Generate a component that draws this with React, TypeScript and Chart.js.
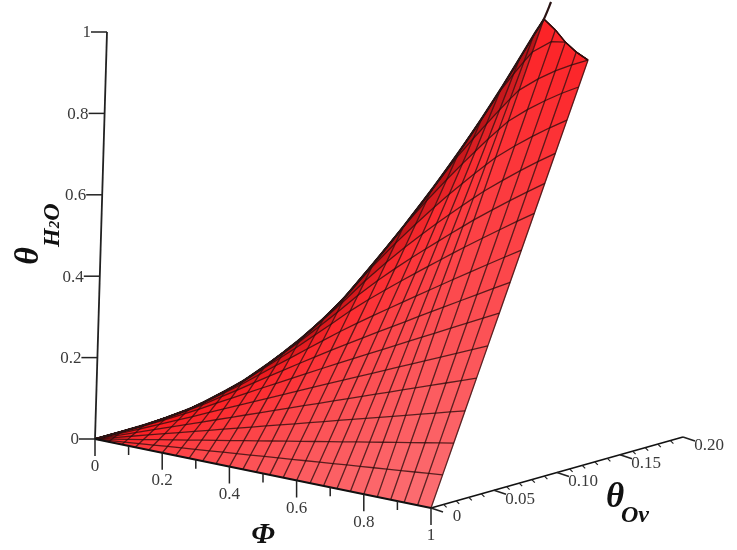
import React, { useEffect, useRef } from "react";
import { Chart, registerables } from "chart.js";

Chart.register(...registerables);

// Constant-phi mesh lines: where each one ends on the ridge or the clipped top edge
const phiStations = [0, 0.04, 0.08, 0.12, 0.16, 0.2, 0.24, 0.28, 0.32, 0.36, 0.4, 0.44, 0.48, 0.52, 0.56, 0.6, 0.64, 0.68, 0.72, 0.76, 0.8, 0.84, 0.88, 0.92, 0.96, 1];
const ovTop = [0, 0.0106, 0.0173, 0.0244, 0.0312, 0.0331, 0.0392, 0.0417, 0.0478, 0.0517, 0.0539, 0.0614, 0.0668, 0.0783, 0.0906, 0.1011, 0.1119, 0.1182, 0.1218, 0.1254, 0.1252, 0.1221, 0.1207, 0.1182, 0.1163, 0.1151];
const hTop = [0, 0.016, 0.0328, 0.052, 0.0735, 0.0972, 0.1263, 0.1543, 0.1919, 0.2296, 0.2666, 0.3184, 0.372, 0.4523, 0.5391, 0.6253, 0.7187, 0.8007, 0.8759, 0.9555, 1.019, 1.068, 1.049, 1.028, 1.012, 1.0];
// Cross lines: level on the phi = 1 edge (above 1 they run out through the clipped top)
const rowLevels = [0, 0.074, 0.145, 0.217, 0.29, 0.362, 0.435, 0.504, 0.576, 0.658, 0.725, 0.792, 0.866, 0.94, 1, 1.07, 1.14, 1.21, 1.28];
const ridgeTip = { phi: 0.85, ov: 0.1247, h: 1.109 };
const RIDGE_STATIONS = 22;

// Axis ticks
const hTicks = [0, 0.2, 0.4, 0.6, 0.8, 1];
const hTickLabels = ["0", "0.2", "0.4", "0.6", "0.8", "1"];
const phiMajor = [0, 0.2, 0.4, 0.6, 0.8, 1];
const phiLabels = ["0", "0.2", "0.4", "0.6", "0.8", "1"];
const phiMinor = [0.1, 0.3, 0.5, 0.7, 0.9];
const ovMajor = [0, 0.05, 0.1, 0.15, 0.2];
const ovLabels = ["0", "0.05", "0.10", "0.15", "0.20"];
const ovMinor = [0.01, 0.02, 0.03, 0.04, 0.06, 0.07, 0.08, 0.09, 0.11, 0.12, 0.13, 0.14, 0.16, 0.17, 0.18, 0.19];

// Oblique view of the three data axes, in plot units
const ORIGIN = { x: 95, y: 439 };
const PHI_VEC = { x: 336, y: 69 };
const OV_VEC = { x: 1260, y: -355 };
const H_VEC = { x: 12, y: -407 };

const project = (phi: number, ov: number, h: number) => ({
  x: ORIGIN.x + phi * PHI_VEC.x + ov * OV_VEC.x + h * H_VEC.x,
  y: ORIGIN.y + phi * PHI_VEC.y + ov * OV_VEC.y + h * H_VEC.y,
});

const cross = (a: { x: number; y: number }, b: { x: number; y: number }) => a.x * b.y - a.y * b.x;

// Cross lines run from the origin to their point on the phi = 1 edge; they merge into the ridge.
const rowFraction = (i: number, r: number) => {
  const last = phiStations.length - 1;
  const level = rowLevels[r];
  if (level === 0) return 0;
  const end = project(1, ovTop[last] * level, hTop[last] * level);
  const ray = { x: end.x - ORIGIN.x, y: end.y - ORIGIN.y };
  const span = {
    x: ovTop[i] * OV_VEC.x + hTop[i] * H_VEC.x,
    y: ovTop[i] * OV_VEC.y + hTop[i] * H_VEC.y,
  };
  const den = cross(span, ray);
  if (den <= 0) return 1;
  const raw = (-phiStations[i] * cross(PHI_VEC, ray)) / den;
  const n = 6;
  const soft = (raw / Math.pow(1 + Math.pow(raw, n), 1 / n)) * Math.pow(1 + Math.pow(level, n), 1 / n);
  return Math.min(1, soft);
};

const meshPoint = (i: number, r: number) => {
  const f = rowFraction(i, r);
  return project(phiStations[i], ovTop[i] * f, hTop[i] * f);
};

const cellColor = (i: number, r: number) => {
  const u = (phiStations[i] + phiStations[i + 1]) / 2;
  const f = (rowFraction(i, r) + rowFraction(i + 1, r) + rowFraction(i, r + 1) + rowFraction(i + 1, r + 1)) / 4;
  const base = 20 + 92 * Math.pow(u, 0.45);
  const ridge = u < 0.85 ? Math.pow(Math.max(0, (f - 0.76) / 0.24), 1.5) : 0;
  const gb = base * (1 - 0.68 * f) * (1 - 0.55 * ridge);
  const red = 252 - 85 * ridge * Math.min(1, 0.35 + u * 1.6);
  return `rgb(${Math.round(red)},${Math.round(gb)},${Math.round(gb + 4)})`;
};

const line = (data: { x: number; y: number }[], color: string, width: number, tension = 0) => ({
  data,
  showLine: true,
  fill: false,
  borderColor: color,
  borderWidth: width,
  pointRadius: 0,
  tension,
});

const buildDatasets = () => {
  const sets: any[] = [];
  for (let i = 0; i < phiStations.length - 1; i++) {
    for (let r = 0; r < rowLevels.length - 1; r++) {
      const c = cellColor(i, r);
      sets.push({
        data: [meshPoint(i, r), meshPoint(i + 1, r), meshPoint(i + 1, r + 1), meshPoint(i, r + 1)],
        showLine: true,
        fill: "shape",
        backgroundColor: c,
        borderColor: c,
        borderWidth: 0.6,
        pointRadius: 0,
      });
    }
  }
  const meshColor = "rgba(50,12,12,0.8)";
  rowLevels.forEach((_, r) => {
    if (r === 0) return;
    sets.push(line(phiStations.map((_, i) => meshPoint(i, r)), meshColor, 1.3));
  });
  phiStations.forEach((_, i) => {
    if (i === 0) return;
    sets.push(line(rowLevels.map((_, r) => meshPoint(i, r)), meshColor, 1.3));
  });
  // ridge with its tip
  const ridge = phiStations.slice(0, RIDGE_STATIONS).map((_, i) => project(phiStations[i], ovTop[i], hTop[i]));
  ridge.push(project(ridgeTip.phi, ridgeTip.ov, ridgeTip.h));
  sets.push(line(ridge, "#2a1414", 2.2, 0.25));

  const axisColor = "#222222";
  // theta H2O axis
  sets.push(line([project(0, 0, 0), project(0, 0, 1)], axisColor, 1.8));
  hTicks.forEach((t) => {
    const p = project(0, 0, t);
    sets.push(line([p, { x: p.x - 16, y: p.y }], axisColor, 1.5));
  });
  // Phi axis
  sets.push(line([project(0, 0, 0), project(1, 0, 0)], "#111111", 2));
  phiMajor.forEach((t) => {
    const p = project(t, 0, 0);
    sets.push(line([p, { x: p.x, y: p.y + 17 }], axisColor, 1.5));
  });
  phiMinor.forEach((t) => {
    const p = project(t, 0, 0);
    sets.push(line([p, { x: p.x, y: p.y + 9 }], axisColor, 1.5));
  });
  // theta Ov axis
  sets.push(line([project(1, 0, 0), project(1, 0.2, 0)], "#111111", 1.8));
  ovMajor.forEach((t) => {
    const p = project(1, t, 0);
    sets.push(line([p, { x: p.x + 12, y: p.y + 4 }], axisColor, 1.4));
  });
  ovMinor.forEach((t) => {
    const p = project(1, t, 0);
    sets.push(line([p, { x: p.x + 3, y: p.y + 3 }], axisColor, 1.2));
  });
  // Chart.js paints the first dataset last
  return sets.reverse();
};

const SERIF = '"Liberation Serif", "Times New Roman", serif';
const TEXT = "#3a3a3a";

const labelsPlugin = {
  id: "axisText",
  afterDraw(chart: any) {
    const { ctx, scales } = chart;
    const px = (p: { x: number; y: number }) => ({ x: scales.x.getPixelForValue(p.x), y: scales.y.getPixelForValue(p.y) });
    ctx.save();
    ctx.textAlign = "center";
    ctx.textBaseline = "middle";
    ctx.fillStyle = TEXT;
    ctx.font = `17px ${SERIF}`;
    hTicks.forEach((t, k) => {
      const p = px(project(0, 0, t));
      ctx.textAlign = "right";
      ctx.fillText(hTickLabels[k], p.x - 16, p.y + 1);
    });
    ctx.textAlign = "center";
    phiMajor.forEach((t, k) => {
      const p = px(project(t, 0, 0));
      ctx.fillText(phiLabels[k], p.x, p.y + 28);
    });
    ovMajor.forEach((t, k) => {
      const p = px(project(1, t, 0));
      ctx.fillText(ovLabels[k], p.x + 26, p.y + 9);
    });

    ctx.fillStyle = "#111111";
    ctx.font = `italic bold 30px ${SERIF}`;
    const phiPos = px({ x: 263, y: 535 });
    ctx.fillText("\u03A6", phiPos.x, phiPos.y);

    const ovPos = px({ x: 615, y: 498 });
    ctx.font = `italic bold 35px ${SERIF}`;
    ctx.fillText("\u03B8", ovPos.x, ovPos.y);
    ctx.font = `italic bold 24px ${SERIF}`;
    ctx.textAlign = "left";
    ctx.fillText("Ov", ovPos.x + 6, ovPos.y + 18);

    ctx.save();
    const tPos = px({ x: 29, y: 256 });
    ctx.translate(tPos.x, tPos.y);
    ctx.rotate(-Math.PI / 2);
    ctx.textAlign = "center";
    ctx.font = `italic bold 34px ${SERIF}`;
    ctx.fillText("\u03B8", 0, 0);
    ctx.textAlign = "left";
    ctx.font = `italic bold 24px ${SERIF}`;
    ctx.fillText("H", 9, 24);
    const hW = ctx.measureText("H").width;
    ctx.font = `italic bold 15px ${SERIF}`;
    ctx.fillText("2", 9 + hW, 26);
    const tW = ctx.measureText("2").width;
    ctx.font = `italic bold 24px ${SERIF}`;
    ctx.fillText("O", 9 + hW + tW, 24);
    ctx.restore();
    ctx.restore();
  },
};

export default function App() {
  const ref = useRef<HTMLCanvasElement | null>(null);
  useEffect(() => {
    document.body.style.margin = "0";
    const chart = new Chart(ref.current as HTMLCanvasElement, {
      type: "scatter",
      data: { datasets: buildDatasets() },
      options: {
        animation: false,
        responsive: false,
        devicePixelRatio: 1,
        layout: { padding: 0 },
        plugins: { legend: { display: false }, tooltip: { enabled: false } },
        scales: {
          x: { type: "linear", min: 0, max: 737, display: false },
          y: { type: "linear", min: 0, max: 550, reverse: true, display: false },
        },
      } as any,
      plugins: [labelsPlugin as any],
    });
    return () => chart.destroy();
  }, []);
  return (
    <canvas
      ref={ref}
      width={737}
      height={550}
      style={{ display: "block", width: 737, height: 550, background: "#fff", filter: "blur(0.5px)" }}
    />
  );
}
